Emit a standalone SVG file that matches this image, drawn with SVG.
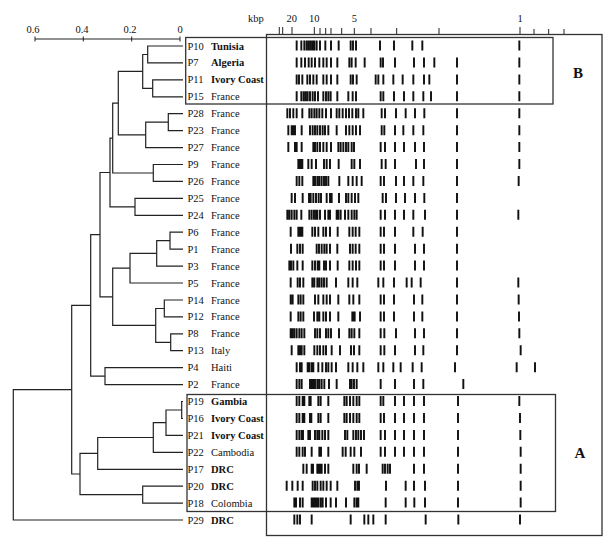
<svg xmlns="http://www.w3.org/2000/svg" width="612" height="544" viewBox="0 0 612 544">
<style>
text{font-family:"Liberation Serif","Times New Roman",serif;font-size:10.5px;fill:#111}
.b{font-weight:bold}
.big{font-weight:bold;font-size:15px}
.tree{fill:none;stroke:#222;stroke-width:1.2}
.box{fill:none;stroke:#333;stroke-width:1.3}
.tick{fill:none;stroke:#222;stroke-width:1}
.band{fill:none;stroke:#111;stroke-width:5.8}
</style>
<rect width="612" height="544" fill="#fff"/>
<g id="distance-axis">
<path class="tick" d="M35 39H180M35 36.5V41.5M83.3 36.5V41.5M131.7 36.5V41.5M180 36.5V41.5"/>
<text x="33" y="33" text-anchor="middle">0.6</text>
<text x="82" y="33" text-anchor="middle">0.4</text>
<text x="130" y="33" text-anchor="middle">0.2</text>
<text x="180" y="33" text-anchor="middle">0</text>
</g>
<g id="kbp-axis">
<text x="248" y="21.5">kbp</text>
<text x="291.7" y="21.5" text-anchor="middle">20</text>
<text x="314.3" y="21.5" text-anchor="middle">10</text>
<text x="354.3" y="21.5" text-anchor="middle">5</text>
<text x="520" y="21.5" text-anchor="middle">1</text>
<path class="tick" d="M279.3 27V34.5M282.7 27V34.5M292 27V34.5M314.3 27V34.5M320 28V34.5M325.7 28V34.5M331 28V34.5M341.7 28V34.5M354.3 28V34.5M371 28V34.5M396.7 28V34.5M439 28V34.5M520 27V34.5M534 29V34.5M548.7 29V34.5M564 29V34.5"/>
</g>
<g id="frames">
<rect class="box" x="266.5" y="34.5" width="335.5" height="501"/>
<rect class="box" x="185.7" y="37.5" width="367.3" height="66.5"/>
<rect class="box" x="187" y="394.5" width="368.5" height="117"/>
<text class="big" x="578" y="78.3" text-anchor="middle">B</text>
<text class="big" x="580" y="458.3" text-anchor="middle">A</text>
</g>
<g id="connectors">
<path class="tree" d="M183 46H147.7V62.9H183"/>
<path class="tree" d="M183 79.9H152.7V96.8H183"/>
<path class="tree" d="M147.7 54.5H142.7V88.4H152.7"/>
<path class="tree" d="M183 113.7H168.3V130.7H183"/>
<path class="tree" d="M168.3 122.2H145.7V147.6H183"/>
<path class="tree" d="M142.7 71.4H118.3V134.9H145.7"/>
<path class="tree" d="M183 164.5H153.3V181.4H183"/>
<path class="tree" d="M118.3 103.2H112.7V173H153.3"/>
<path class="tree" d="M183 198.4H135V215.3H183"/>
<path class="tree" d="M112.7 138.1H110V206.9H135"/>
<path class="tree" d="M183 232.2H170V249.2H183"/>
<path class="tree" d="M170 240.7H156.7V266.1H183"/>
<path class="tree" d="M156.7 253.4H130V283H183"/>
<path class="tree" d="M183 300H164.3V316.9H183"/>
<path class="tree" d="M183 333.8H170.7V350.7H183"/>
<path class="tree" d="M164.3 308.5H155.7V342.3H170.7"/>
<path class="tree" d="M130 268.2H112.7V325.4H155.7"/>
<path class="tree" d="M110 172.5H100V296.8H112.7"/>
<path class="tree" d="M183 367.7H105V384.6H183"/>
<path class="tree" d="M100 234.7H90.7V376.2H105"/>
<path class="tree" d="M183 401.5H181.7V418.5H183"/>
<path class="tree" d="M181.7 410H166V435.4H183"/>
<path class="tree" d="M166 422.7H153.3V452.3H183"/>
<path class="tree" d="M153.3 437.5H97.7V469.3H183"/>
<path class="tree" d="M183 486.2H142.7V503.1H183"/>
<path class="tree" d="M97.7 453.4H80V494.7H142.7"/>
<path class="tree" d="M90.7 305.4H71.7V474H80"/>
<path class="tree" d="M71.7 389.7H13.3V520H183"/>
</g>
<g id="P10"><text x="187.5" y="49.5">P10</text><text class="b" x="211" y="49.5">Tunisia</text>
<path class="band" transform="translate(260 40.5) scale(0.33333 1)" d="M110 0v10M124 0v10M133 0v10M140 0v10M146 0v10M152 0v10M158 0v10M163 0v10M170 0v10M180 0v10M196 0v10M213 0v10M236 0v10M272 0v10M279 0v10M288 0v10M360 0v10M402 0v10M457 0v10M487 0v10M778 0v10"/></g>
<g id="P7"><text x="187.5" y="66.4">P7</text><text class="b" x="211" y="66.4">Algeria</text>
<path class="band" transform="translate(260 57.4) scale(0.33333 1)" d="M110 0v10M124 0v10M135 0v10M146 0v10M155 0v10M165 0v10M178 0v10M190 0v10M200 0v10M213 0v10M232 0v10M268 0v10M275 0v10M287 0v10M314 0v10M362 0v10M369 0v10M405 0v10M462 0v10M492 0v10M523 0v10M591 0v10M778 0v10"/></g>
<g id="P11"><text x="187.5" y="83.4">P11</text><text class="b" x="211" y="83.4">Ivory Coast</text>
<path class="band" transform="translate(260 74.4) scale(0.33333 1)" d="M110 0v10M117 0v10M127 0v10M142 0v10M150 0v10M160 0v10M170 0v10M190 0v10M200 0v10M213 0v10M232 0v10M272 0v10M279 0v10M290 0v10M347 0v10M355 0v10M370 0v10M400 0v10M428 0v10M460 0v10M492 0v10M508 0v10M591 0v10M778 0v10"/></g>
<g id="P15"><text x="187.5" y="100.3">P15</text><text x="211" y="100.3">France</text>
<path class="band" transform="translate(260 91.3) scale(0.33333 1)" d="M110 0v10M124 0v10M131 0v10M137 0v10M143 0v10M150 0v10M158 0v10M165 0v10M174 0v10M190 0v10M198 0v10M205 0v10M212 0v10M232 0v10M265 0v10M278 0v10M288 0v10M362 0v10M370 0v10M402 0v10M432 0v10M460 0v10M490 0v10M513 0v10M591 0v10M778 0v10"/></g>
<g id="P28"><text x="187.5" y="117.2">P28</text><text x="211" y="117.2">France</text>
<path class="band" transform="translate(260 108.2) scale(0.33333 1)" d="M82 0v10M90 0v10M100 0v10M110 0v10M127 0v10M148 0v10M155 0v10M163 0v10M170 0v10M178 0v10M187 0v10M198 0v10M213 0v10M230 0v10M238 0v10M248 0v10M258 0v10M267 0v10M277 0v10M288 0v10M295 0v10M310 0v10M365 0v10M375 0v10M408 0v10M437 0v10M465 0v10M493 0v10M591 0v10M778 0v10"/></g>
<g id="P23"><text x="187.5" y="134.2">P23</text><text x="211" y="134.2">France</text>
<path class="band" transform="translate(260 125.2) scale(0.33333 1)" d="M85 0v10M95 0v10M100 0v10M105 0v10M125 0v10M150 0v10M158 0v10M165 0v10M172 0v10M180 0v10M188 0v10M195 0v10M205 0v10M230 0v10M258 0v10M268 0v10M278 0v10M288 0v10M300 0v10M365 0v10M373 0v10M405 0v10M430 0v10M460 0v10M490 0v10M591 0v10M778 0v10"/></g>
<g id="P27"><text x="187.5" y="151.1">P27</text><text x="211" y="151.1">France</text>
<path class="band" transform="translate(260 142.1) scale(0.33333 1)" d="M85 0v10M105 0v10M110 0v10M125 0v10M160 0v10M165 0v10M172 0v10M180 0v10M190 0v10M200 0v10M213 0v10M235 0v10M242 0v10M250 0v10M258 0v10M265 0v10M275 0v10M282 0v10M362 0v10M375 0v10M405 0v10M432 0v10M465 0v10M492 0v10M591 0v10M778 0v10"/></g>
<g id="P9"><text x="187.5" y="168">P9</text><text x="211" y="168">France</text>
<path class="band" transform="translate(260 159) scale(0.33333 1)" d="M115 0v10M119 0v10M123 0v10M127 0v10M145 0v10M155 0v10M168 0v10M192 0v10M200 0v10M210 0v10M236 0v10M275 0v10M283 0v10M300 0v10M365 0v10M377 0v10M405 0v10M468 0v10M492 0v10M591 0v10M778 0v10"/></g>
<g id="P26"><text x="187.5" y="184.9">P26</text><text x="211" y="184.9">France</text>
<path class="band" transform="translate(260 175.9) scale(0.33333 1)" d="M110 0v10M118 0v10M127 0v10M160 0v10M165 0v10M172 0v10M178 0v10M185 0v10M192 0v10M198 0v10M205 0v10M238 0v10M265 0v10M278 0v10M290 0v10M305 0v10M362 0v10M372 0v10M408 0v10M432 0v10M460 0v10M490 0v10M591 0v10M776 0v10"/></g>
<g id="P25"><text x="187.5" y="201.9">P25</text><text x="211" y="201.9">France</text>
<path class="band" transform="translate(260 192.9) scale(0.33333 1)" d="M95 0v10M105 0v10M128 0v10M147 0v10M152 0v10M160 0v10M168 0v10M176 0v10M183 0v10M200 0v10M210 0v10M215 0v10M237 0v10M258 0v10M265 0v10M275 0v10M285 0v10M295 0v10M368 0v10M378 0v10M408 0v10M435 0v10M465 0v10M493 0v10M591 0v10"/></g>
<g id="P24"><text x="187.5" y="218.8">P24</text><text x="211" y="218.8">France</text>
<path class="band" transform="translate(260 209.8) scale(0.33333 1)" d="M82 0v10M88 0v10M95 0v10M103 0v10M110 0v10M124 0v10M148 0v10M155 0v10M162 0v10M168 0v10M172 0v10M180 0v10M195 0v10M205 0v10M210 0v10M230 0v10M235 0v10M242 0v10M255 0v10M265 0v10M275 0v10M283 0v10M290 0v10M362 0v10M375 0v10M405 0v10M432 0v10M460 0v10M495 0v10M591 0v10M775 0v10"/></g>
<g id="P6"><text x="187.5" y="235.7">P6</text><text x="211" y="235.7">France</text>
<path class="band" transform="translate(260 226.7) scale(0.33333 1)" d="M92 0v10M115 0v10M119 0v10M123 0v10M127 0v10M157 0v10M165 0v10M175 0v10M190 0v10M198 0v10M210 0v10M233 0v10M268 0v10M278 0v10M287 0v10M298 0v10M362 0v10M372 0v10M405 0v10M460 0v10M488 0v10M591 0v10"/></g>
<g id="P1"><text x="187.5" y="252.7">P1</text><text x="211" y="252.7">France</text>
<path class="band" transform="translate(260 243.7) scale(0.33333 1)" d="M93 0v10M112 0v10M120 0v10M128 0v10M170 0v10M177 0v10M185 0v10M193 0v10M200 0v10M210 0v10M232 0v10M270 0v10M278 0v10M287 0v10M298 0v10M362 0v10M372 0v10M405 0v10M465 0v10M492 0v10M591 0v10"/></g>
<g id="P3"><text x="187.5" y="269.6">P3</text><text x="211" y="269.6">France</text>
<path class="band" transform="translate(260 260.6) scale(0.33333 1)" d="M88 0v10M93 0v10M100 0v10M112 0v10M128 0v10M157 0v10M165 0v10M173 0v10M178 0v10M192 0v10M198 0v10M210 0v10M233 0v10M268 0v10M278 0v10M288 0v10M298 0v10M362 0v10M372 0v10M405 0v10M465 0v10M492 0v10M591 0v10"/></g>
<g id="P5"><text x="187.5" y="286.5">P5</text><text x="211" y="286.5">France</text>
<path class="band" transform="translate(260 277.5) scale(0.33333 1)" d="M92 0v10M113 0v10M120 0v10M130 0v10M157 0v10M163 0v10M172 0v10M178 0v10M185 0v10M192 0v10M200 0v10M228 0v10M265 0v10M278 0v10M292 0v10M355 0v10M370 0v10M402 0v10M440 0v10M455 0v10M482 0v10M591 0v10M775 0v10"/></g>
<g id="P14"><text x="187.5" y="303.5">P14</text><text x="211" y="303.5">France</text>
<path class="band" transform="translate(260 294.5) scale(0.33333 1)" d="M92 0v10M98 0v10M115 0v10M122 0v10M130 0v10M165 0v10M175 0v10M190 0v10M200 0v10M210 0v10M235 0v10M268 0v10M280 0v10M298 0v10M362 0v10M372 0v10M402 0v10M462 0v10M487 0v10M591 0v10M776 0v10"/></g>
<g id="P12"><text x="187.5" y="320.4">P12</text><text x="211" y="320.4">France</text>
<path class="band" transform="translate(260 311.4) scale(0.33333 1)" d="M92 0v10M115 0v10M122 0v10M130 0v10M162 0v10M172 0v10M178 0v10M190 0v10M198 0v10M210 0v10M235 0v10M277 0v10M281 0v10M284 0v10M300 0v10M362 0v10M372 0v10M402 0v10M462 0v10M487 0v10M591 0v10M777 0v10"/></g>
<g id="P8"><text x="187.5" y="337.3">P8</text><text x="211" y="337.3">France</text>
<path class="band" transform="translate(260 328.3) scale(0.33333 1)" d="M92 0v10M97 0v10M103 0v10M110 0v10M118 0v10M125 0v10M133 0v10M165 0v10M172 0v10M180 0v10M198 0v10M205 0v10M213 0v10M237 0v10M268 0v10M275 0v10M283 0v10M298 0v10M362 0v10M373 0v10M408 0v10M465 0v10M492 0v10M591 0v10M778 0v10"/></g>
<g id="P13"><text x="187.5" y="354.2">P13</text><text x="211" y="354.2">Italy</text>
<path class="band" transform="translate(260 345.2) scale(0.33333 1)" d="M95 0v10M115 0v10M120 0v10M125 0v10M133 0v10M163 0v10M172 0v10M180 0v10M190 0v10M198 0v10M215 0v10M240 0v10M273 0v10M282 0v10M298 0v10M362 0v10M373 0v10M405 0v10M465 0v10M490 0v10M591 0v10M782 0v10"/></g>
<g id="P4"><text x="187.5" y="371.2">P4</text><text x="211" y="371.2">Haiti</text>
<path class="band" transform="translate(260 362.2) scale(0.33333 1)" d="M110 0v10M120 0v10M125 0v10M143 0v10M148 0v10M155 0v10M160 0v10M175 0v10M187 0v10M198 0v10M205 0v10M215 0v10M228 0v10M265 0v10M278 0v10M292 0v10M310 0v10M355 0v10M370 0v10M400 0v10M422 0v10M458 0v10M485 0v10M585 0v10M770 0v10M825 0v10"/></g>
<g id="P2"><text x="187.5" y="388.1">P2</text><text x="211" y="388.1">France</text>
<path class="band" transform="translate(260 379.1) scale(0.33333 1)" d="M110 0v10M118 0v10M125 0v10M150 0v10M155 0v10M160 0v10M165 0v10M172 0v10M178 0v10M185 0v10M193 0v10M207 0v10M230 0v10M270 0v10M275 0v10M282 0v10M290 0v10M362 0v10M405 0v10M462 0v10M490 0v10M610 0v10"/></g>
<g id="P19"><text x="187.5" y="405">P19</text><text class="b" x="211" y="405">Gambia</text>
<path class="band" transform="translate(260 396) scale(0.33333 1)" d="M110 0v10M118 0v10M128 0v10M133 0v10M148 0v10M152 0v10M175 0v10M182 0v10M205 0v10M253 0v10M260 0v10M270 0v10M280 0v10M290 0v10M298 0v10M362 0v10M370 0v10M405 0v10M432 0v10M462 0v10M492 0v10M594 0v10M778 0v10"/></g>
<g id="P16"><text x="187.5" y="422">P16</text><text class="b" x="211" y="422">Ivory Coast</text>
<path class="band" transform="translate(260 413) scale(0.33333 1)" d="M110 0v10M118 0v10M128 0v10M133 0v10M150 0v10M154 0v10M175 0v10M182 0v10M205 0v10M253 0v10M260 0v10M270 0v10M280 0v10M290 0v10M298 0v10M362 0v10M372 0v10M405 0v10M432 0v10M462 0v10M492 0v10M594 0v10M780 0v10"/></g>
<g id="P21"><text x="187.5" y="438.9">P21</text><text class="b" x="211" y="438.9">Ivory Coast</text>
<path class="band" transform="translate(260 429.9) scale(0.33333 1)" d="M110 0v10M118 0v10M125 0v10M129 0v10M145 0v10M150 0v10M165 0v10M172 0v10M178 0v10M187 0v10M195 0v10M205 0v10M255 0v10M262 0v10M280 0v10M288 0v10M295 0v10M303 0v10M312 0v10M362 0v10M375 0v10M405 0v10M432 0v10M462 0v10M492 0v10M594 0v10M781 0v10"/></g>
<g id="P22"><text x="187.5" y="455.8">P22</text><text x="211" y="455.8">Cambodia</text>
<path class="band" transform="translate(260 446.8) scale(0.33333 1)" d="M110 0v10M118 0v10M128 0v10M135 0v10M155 0v10M178 0v10M183 0v10M205 0v10M248 0v10M257 0v10M272 0v10M283 0v10M303 0v10M362 0v10M375 0v10M405 0v10M432 0v10M462 0v10M492 0v10M594 0v10M782 0v10"/></g>
<g id="P17"><text x="187.5" y="472.8">P17</text><text class="b" x="211" y="472.8">DRC</text>
<path class="band" transform="translate(260 463.8) scale(0.33333 1)" d="M130 0v10M140 0v10M155 0v10M159 0v10M172 0v10M176 0v10M180 0v10M185 0v10M195 0v10M205 0v10M280 0v10M290 0v10M297 0v10M320 0v10M368 0v10M375 0v10M383 0v10M390 0v10M462 0v10M492 0v10M594 0v10M782 0v10"/></g>
<g id="P20"><text x="187.5" y="489.7">P20</text><text class="b" x="211" y="489.7">DRC</text>
<path class="band" transform="translate(260 480.7) scale(0.33333 1)" d="M80 0v10M97 0v10M113 0v10M128 0v10M158 0v10M165 0v10M172 0v10M182 0v10M190 0v10M200 0v10M212 0v10M232 0v10M285 0v10M292 0v10M297 0v10M378 0v10M437 0v10M462 0v10M495 0v10M594 0v10M782 0v10"/></g>
<g id="P18"><text x="187.5" y="506.6">P18</text><text x="211" y="506.6">Colombia</text>
<path class="band" transform="translate(260 497.6) scale(0.33333 1)" d="M103 0v10M108 0v10M120 0v10M128 0v10M155 0v10M160 0v10M165 0v10M170 0v10M175 0v10M182 0v10M188 0v10M198 0v10M212 0v10M228 0v10M258 0v10M283 0v10M290 0v10M295 0v10M377 0v10M437 0v10M463 0v10M495 0v10M594 0v10M782 0v10"/></g>
<g id="P29"><text x="187.5" y="523.5">P29</text><text class="b" x="211" y="523.5">DRC</text>
<path class="band" transform="translate(260 514.5) scale(0.33333 1)" d="M103 0v10M112 0v10M120 0v10M155 0v10M272 0v10M313 0v10M325 0v10M340 0v10M377 0v10M497 0v10M595 0v10M780 0v10"/></g>
</svg>
